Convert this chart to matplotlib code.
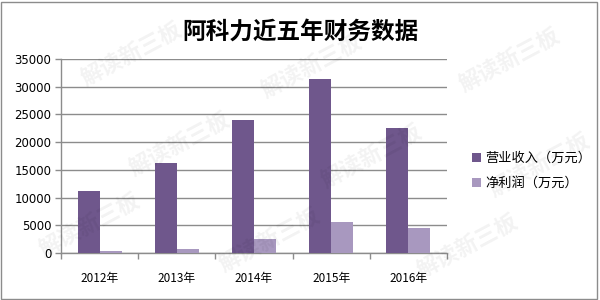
import matplotlib
matplotlib.use("Agg")
import matplotlib.pyplot as plt
import numpy as np
from matplotlib.patches import Rectangle

plt.rcParams['font.family'] = ['Noto Sans CJK SC', 'DejaVu Sans']

title = "阿科力近五年财务数据"
years = ["2012年", "2013年", "2014年", "2015年", "2016年"]
revenue = [11200, 16300, 24000, 31400, 22500]
net_profit = [400, 750, 2550, 5600, 4500]
series_names = ["营业收入（万元）", "净利润（万元）"]
yticks = [0, 5000, 10000, 15000, 20000, 25000, 30000, 35000]
watermark = "解读新三板"

c_rev = "#6f578c"
c_net = "#a898bf"
grid_c = "#8c8c8c"

fig = plt.figure(figsize=(6, 3), dpi=100)
fig.patch.set_facecolor("white")
ax = fig.add_axes([61/600, 47/300, 386/600, 194/300])
ax.set_facecolor("none")

x = np.arange(len(years))
w = 0.286
b1 = ax.bar(x - w/2, revenue, width=w, color=c_rev, label=series_names[0], zorder=3)
b2 = ax.bar(x + w/2, net_profit, width=w, color=c_net, label=series_names[1], zorder=3)

ax.set_xlim(-0.5, len(years) - 0.5)
ax.set_ylim(0, 35000)
ax.set_yticks(yticks)
ax.set_yticklabels([str(v) for v in yticks], fontsize=8.5, family=['DejaVu Sans'])
ax.yaxis.grid(True, color=grid_c, linewidth=1, zorder=0)
ax.set_axisbelow(True)

ax.set_xticks(np.arange(len(years) + 1) - 0.5)
ax.set_xticklabels([])
ax.set_xticks(x, minor=True)
ax.set_xticklabels(years, minor=True, fontsize=8.5)
ax.tick_params(axis='x', which='minor', length=0, pad=14)
ax.tick_params(axis='x', which='major', length=4, color=grid_c, width=1)
ax.tick_params(axis='y', length=4, color=grid_c, width=1, pad=3)

for s in ["top", "right"]:
    ax.spines[s].set_visible(False)
for s in ["left", "bottom"]:
    ax.spines[s].set_color(grid_c)
    ax.spines[s].set_linewidth(1)

fig.text(0.5, 0.895, title, ha="center", va="center", fontsize=17, fontweight="bold")

leg = fig.legend(handles=[b1, b2], labels=series_names, loc="center left",
                 bbox_to_anchor=(460/600, 1 - 171/300), frameon=False,
                 fontsize=9.5, handlelength=0.7, handleheight=0.7,
                 handletextpad=0.3, labelspacing=0.9)

# watermark (kept fully inside the figure)
wm_pos = [(0.22, 0.82), (0.52, 0.78), (0.85, 0.80),
          (0.30, 0.52), (0.62, 0.48), (0.90, 0.45),
          (0.15, 0.25), (0.45, 0.20), (0.78, 0.18)]
for xx, yy in wm_pos:
    fig.text(xx, yy, watermark, rotation=28, fontsize=16, fontweight="bold",
             color="#000000", alpha=0.05, ha="center", va="center", zorder=10)

# figure border
fig.patches.append(Rectangle((0.002, 0.004), 0.993, 0.99, transform=fig.transFigure,
                             fill=False, edgecolor="#8c8c8c", linewidth=1))

fig.savefig("out.png", dpi=100)
